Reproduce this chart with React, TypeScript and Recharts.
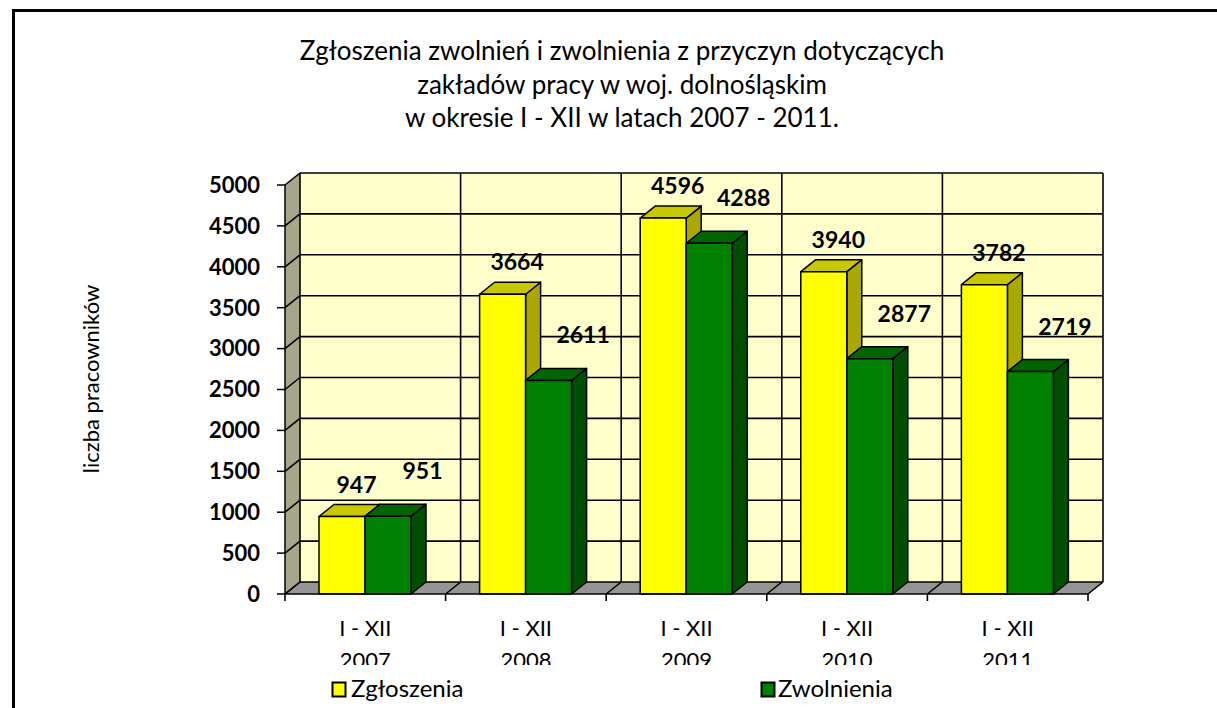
import { BarChart, Bar, XAxis, YAxis, CartesianGrid, LabelList } from 'recharts';

const categories = ['2007', '2008', '2009', '2010', '2011'];
const periodLabel = 'I - XII';
const zgloszenia = [947, 3664, 4596, 3940, 3782];
const zwolnienia = [951, 2611, 4288, 2877, 2719];
const yTicks = [0, 500, 1000, 1500, 2000, 2500, 3000, 3500, 4000, 4500, 5000];
const titleLines = [
  'Zgłoszenia zwolnień i zwolnienia z przyczyn dotyczących',
  'zakładów pracy w woj. dolnośląskim',
  'w okresie I - XII w latach 2007 - 2011.',
];

const data = categories.map((year, i) => ({
  year,
  zgloszenia: zgloszenia[i],
  zwolnienia: zwolnienia[i],
}));

const W = 1217;
const H = 708;
// depth of the fake 3d walls and of the bars
const DX = 15;
const DY = 12;
const FONT = 'Lato, "Open Sans", sans-serif';
// plot box (front plane)
const PL = 285;
const PT = 185;
const PR = 1088;
const PB = 594;

function Bar3D(props: any) {
  const { x, y, width, height, fill, top, side } = props;
  if (!height || height <= 0) return null;
  const r = x + width;
  const b = y + height;
  return (
    <g stroke="#000" strokeWidth={1.5} strokeLinejoin="round">
      <polygon points={`${r},${y} ${r + DX},${y - DY} ${r + DX},${b - DY} ${r},${b}`} fill={side} />
      <polygon points={`${x},${y} ${x + DX},${y - DY} ${r + DX},${y - DY} ${r},${y}`} fill={top} />
      <rect x={x} y={y} width={width} height={height} fill={fill} />
    </g>
  );
}

// labels were nudged by hand in the original, one offset per series here
const makeLabel = (shiftX: number, lift: number) => (p: any) => {
  const vb = p.viewBox || p;
  const x = Number(vb.x);
  const y = Number(vb.y);
  const w = Number(vb.width);
  return (
    <text
      x={x + w / 2 + DX / 2 + shiftX}
      y={y - DY - lift}
      textAnchor="middle"
      fontFamily={FONT}
      fontWeight="bold"
      fontSize={23}
      fill="#000"
    >
      {p.value}
    </text>
  );
};

function XTick(props: any) {
  const { x, y, payload, index } = props;
  const id = `xclip${index}`;
  return (
    <g>
      <defs>
        <clipPath id={id}>
          <rect x={x - 80} y={y} width={160} height={665 - y} />
        </clipPath>
      </defs>
      <text clipPath={`url(#${id})`} textAnchor="middle" fontFamily={FONT} fontSize={22} fill="#000">
        <tspan x={x} y={y + 42}>{periodLabel}</tspan>
        <tspan x={x} y={y + 74}>{payload.value}</tspan>
      </text>
    </g>
  );
}

// horizontal grid: line on the back wall + diagonal across the left wall
const hLine = (p: any) => (
  <g key={p.key ?? `h-${p.index}`} stroke="#000" strokeWidth={1.6}>
    <line x1={p.x1 + DX} y1={p.y1 - DY} x2={p.x2 + DX} y2={p.y2 - DY} />
    <line x1={p.x1} y1={p.y1} x2={p.x1 + DX} y2={p.y1 - DY} />
  </g>
);

// vertical grid at category borders: back wall line, floor diagonal and tick
const vLine = (p: any) => (
  <g key={p.key ?? `v-${p.index}`} stroke="#000" strokeWidth={1.6}>
    <line x1={p.x1 + DX} y1={p.y1 - DY} x2={p.x2 + DX} y2={p.y2 - DY} />
    <line x1={p.x2} y1={p.y2} x2={p.x2 + DX} y2={p.y2 - DY} />
    <line x1={p.x2} y1={p.y2} x2={p.x2} y2={p.y2 + 7} />
  </g>
);

const borderCoords = ({ offset }: any) =>
  categories.concat(['']).map((_, i) => offset.left + (i * offset.width) / categories.length);

function Backdrop() {
  return (
    <svg width={W} height={H} style={{ position: 'absolute', left: 0, top: 0 }}>
      <rect x={13.5} y={10.5} width={1400} height={900} fill="#fff" stroke="#000" strokeWidth={3} />
      {titleLines.map((t, i) => (
        <text key={i} x={622} y={60 + i * 33.5} textAnchor="middle" fontFamily={FONT} fontSize={26} fill="#000">
          {t}
        </text>
      ))}
      <text
        x={90}
        y={379}
        transform="rotate(-90 90 379)"
        textAnchor="middle"
        dominantBaseline="central"
        fontFamily={FONT}
        fontSize={22}
        fill="#000"
      >
        liczba pracowników
      </text>
      {/* walls and floor */}
      <polygon points={`${PL},${PT} ${PL + DX},${PT - DY} ${PL + DX},${PB - DY} ${PL},${PB}`} fill="#a6a68a" />
      <rect x={PL + DX} y={PT - DY} width={PR - PL} height={PB - PT} fill="#ffffcc" />
      <polygon points={`${PL},${PB} ${PR},${PB} ${PR + DX},${PB - DY} ${PL + DX},${PB - DY}`} fill="#959595" />
      {/* legend */}
      <rect x={332.5} y={682.5} width={13} height={14} fill="#ffff00" stroke="#000" strokeWidth={2} />
      <text x={351} y={697} fontFamily={FONT} fontSize={24} fill="#000">Zgłoszenia</text>
      <rect x={761.5} y={682.5} width={13} height={14} fill="#008000" stroke="#000" strokeWidth={2} />
      <text x={778} y={697} fontFamily={FONT} fontSize={24} fill="#000">Zwolnienia</text>
    </svg>
  );
}

export default function App() {
  return (
    <div style={{ position: 'absolute', left: 0, top: 0, width: W, height: H, background: '#fff' }}>
      <Backdrop />
      <div style={{ position: 'absolute', left: 0, top: 0 }}>
        <BarChart
          width={W}
          height={H}
          data={data}
          margin={{ top: PT, right: W - PR, bottom: H - PB - 60, left: PL - 80 }}
          barSize={46}
          barGap={0}
        >
          <CartesianGrid horizontal={hLine} vertical={vLine} verticalCoordinatesGenerator={borderCoords} />
          <XAxis
            dataKey="year"
            height={60}
            interval={0}
            tickSize={0}
            tickMargin={0}
            tickLine={false}
            axisLine={{ stroke: '#000', strokeWidth: 1.5 }}
            tick={(p: any) => <XTick {...p} />}
          />
          <YAxis
            width={80}
            domain={[0, 5000]}
            ticks={yTicks}
            interval={0}
            tickSize={8}
            tickMargin={17}
            axisLine={{ stroke: '#000', strokeWidth: 1.5 }}
            tickLine={{ stroke: '#000', strokeWidth: 1.5 }}
            tick={{ fontFamily: FONT, fontWeight: 'bold', fontSize: 22, fill: '#000' }}
          />
          <Bar
            dataKey="zgloszenia"
            fill="#ffff00"
            isAnimationActive={false}
            shape={(p: any) => <Bar3D {...p} top="#c8c800" side="#a8a800" />}
          >
            <LabelList dataKey="zgloszenia" content={makeLabel(7, 12)} />
          </Bar>
          <Bar
            dataKey="zwolnienia"
            fill="#008000"
            isAnimationActive={false}
            shape={(p: any) => <Bar3D {...p} top="#006400" side="#004f00" />}
          >
            <LabelList dataKey="zwolnienia" content={makeLabel(27, 25)} />
          </Bar>
        </BarChart>
      </div>
    </div>
  );
}
